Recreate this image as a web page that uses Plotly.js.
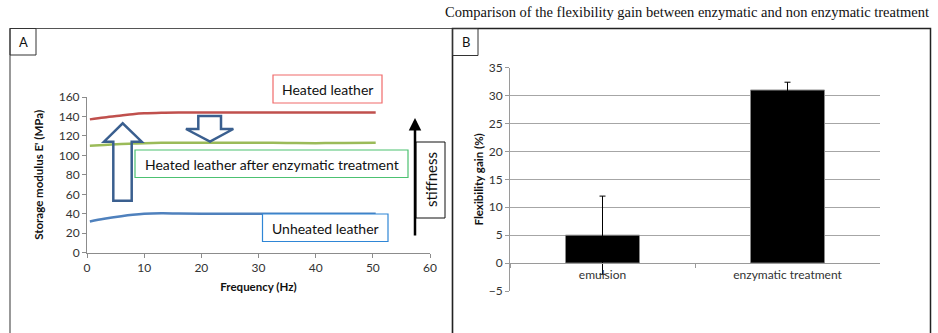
<!DOCTYPE html>
<html>
<head>
<meta charset="utf-8">
<script src="https://cdn.plot.ly/plotly-3.0.1.min.js"></script>
<style>html,body{margin:0;padding:0;background:#fff}#chart{width:938px;height:333px}</style>
</head>
<body>
<div id="chart"></div>
<script>
// ---- Data: Panel A (storage modulus vs frequency) ----
var freq = [0.5, 3, 6, 8, 10, 13, 16, 20, 25, 30, 35, 40, 45, 50.5];
var heated = [137, 139, 141, 142.3, 143.2, 143.8, 144, 144, 144, 144, 144, 144, 144, 144];
var heatedEnzyme = [110, 110.8, 111.6, 112.1, 112.6, 113, 113, 113, 113, 113, 112.8, 112.6, 112.8, 113];
var unheated = [32, 34.8, 37.5, 39, 40, 40.5, 40.3, 40, 40, 40, 40, 40, 40, 40];
var seriesNames = ['Heated leather', 'Heated leather after enzymatic treatment', 'Unheated leather'];

// ---- Data: Panel B (flexibility gain) ----
var treatments = ['emulsion', 'enzymatic treatment'];
var gain = [5, 31];
var gainErr = [7, 1.4];

var W = 938, H = 333;
function px(x){ return x / W; }
function py(y){ return 1 - y / H; }
function pathPx(pts){
  return 'M' + pts.map(function(p){ return px(p[0]).toFixed(5) + ',' + py(p[1]).toFixed(5); }).join(' L') + ' Z';
}

var FONT = 'Lato, "Open Sans", "DejaVu Sans", sans-serif';

var traces = [
  {x: freq, y: heated, name: seriesNames[0], type: 'scatter', mode: 'lines',
   line: {color: '#C0504D', width: 2.5, shape: 'spline'}, xaxis: 'x', yaxis: 'y'},
  {x: freq, y: heatedEnzyme, name: seriesNames[1], type: 'scatter', mode: 'lines',
   line: {color: '#9BBB59', width: 2.5, shape: 'spline'}, xaxis: 'x', yaxis: 'y'},
  {x: freq, y: unheated, name: seriesNames[2], type: 'scatter', mode: 'lines',
   line: {color: '#4F81BD', width: 2.5, shape: 'spline'}, xaxis: 'x', yaxis: 'y'},
  {x: treatments, y: gain, type: 'bar', name: 'Flexibility gain', width: 0.4,
   marker: {color: '#000000', line: {color: '#8a8a8a', width: 1}},
   error_y: {type: 'data', array: gainErr, arrayminus: gainErr, visible: true,
             color: '#000000', thickness: 1, width: 3},
   xaxis: 'x2', yaxis: 'y2'}
];

var axisFont = {family: FONT, size: 12, color: '#333333'};
var titleFont = {family: FONT, size: 11.5, color: '#111111', weight: 'bold'};

var layout = {
  width: W, height: H,
  margin: {l: 0, r: 0, t: 0, b: 0},
  paper_bgcolor: '#ffffff', plot_bgcolor: 'rgba(0,0,0,0)',
  showlegend: false,
  font: {family: FONT},
  xaxis: {
    domain: [px(87), px(430)], range: [0, 60], dtick: 10, tick0: 0,
    showline: true, linecolor: '#8c8c8c', linewidth: 1,
    ticks: 'outside', ticklen: 4, tickcolor: '#8c8c8c',
    showgrid: false, zeroline: false, tickfont: axisFont,
    title: {text: 'Frequency (Hz)', font: titleFont, standoff: 8},
    anchor: 'y', fixedrange: true
  },
  yaxis: {
    domain: [py(252.7), py(97)], range: [0, 160], dtick: 20, tick0: 0,
    showline: true, linecolor: '#8c8c8c', linewidth: 1,
    ticks: 'outside', ticklen: 4, tickcolor: '#8c8c8c',
    showgrid: false, zeroline: false, tickfont: axisFont,
    title: {text: "Storage modulus E' (MPa)", font: titleFont, standoff: 12},
    anchor: 'x', fixedrange: true
  },
  xaxis2: {
    domain: [px(510), px(880)], type: 'category',
    anchor: 'free', position: py(263.3),
    showline: true, linecolor: '#9a9a9a', linewidth: 1,
    ticks: 'outside', tickson: 'boundaries', ticklen: 4, tickcolor: '#9a9a9a',
    showgrid: false, zeroline: false, tickfont: axisFont, fixedrange: true
  },
  yaxis2: {
    domain: [py(291), py(67.7)], range: [-5, 35], dtick: 5, tick0: 0,
    showline: true, linecolor: '#9a9a9a', linewidth: 1,
    ticks: 'outside', ticklen: 4, tickcolor: '#9a9a9a',
    showgrid: true, gridcolor: '#a6a6a6', gridwidth: 1,
    zeroline: false, tickfont: axisFont,
    title: {text: 'Flexibility gain (%)', font: titleFont, standoff: 2},
    anchor: 'x2', fixedrange: true
  },
  shapes: [
    // panel frames
    {type: 'rect', xref: 'paper', yref: 'paper', x0: px(10), x1: px(452.5), y0: py(345), y1: py(28.5),
     line: {color: '#555555', width: 1.2}},
    {type: 'rect', xref: 'paper', yref: 'paper', x0: px(452.5), x1: px(930.5), y0: py(345), y1: py(28.5),
     line: {color: '#222222', width: 1.5}},
    // panel label boxes
    {type: 'rect', xref: 'paper', yref: 'paper', x0: px(10), x1: px(36), y0: py(55), y1: py(28.5),
     line: {color: '#333333', width: 1}},
    {type: 'rect', xref: 'paper', yref: 'paper', x0: px(452.5), x1: px(478), y0: py(55.5), y1: py(28.5),
     line: {color: '#333333', width: 1}},
    // label boxes in A
    {type: 'rect', xref: 'paper', yref: 'paper', x0: px(273), x1: px(382), y0: py(103), y1: py(75),
     line: {color: '#F06A6A', width: 1.2}, fillcolor: '#ffffff'},
    {type: 'rect', xref: 'paper', yref: 'paper', x0: px(135), x1: px(408), y0: py(177.5), y1: py(150),
     line: {color: '#4CC171', width: 1.2}, fillcolor: '#ffffff'},
    {type: 'rect', xref: 'paper', yref: 'paper', x0: px(262.5), x1: px(388), y0: py(241.5), y1: py(214),
     line: {color: '#2F86D6', width: 1.2}, fillcolor: '#ffffff'},
    {type: 'rect', xref: 'paper', yref: 'paper', x0: px(416), x1: px(445), y0: py(218), y1: py(142),
     line: {color: '#111111', width: 1}, fillcolor: '#ffffff'},
    // hollow up arrow
    {type: 'path', xref: 'paper', yref: 'paper',
     path: pathPx([[113.3, 200.7], [113.3, 141.7], [104, 141.7], [122.7, 123.3], [141.7, 141.7], [131.7, 141.7], [131.7, 200.7]]),
     line: {color: '#3A5F8F', width: 2.5}, fillcolor: 'rgba(0,0,0,0)'},
    // hollow down arrow
    {type: 'path', xref: 'paper', yref: 'paper',
     path: pathPx([[198.3, 116], [198.3, 129], [186, 129], [210, 141.7], [233.3, 129], [221, 129], [221, 116]]),
     line: {color: '#3A5F8F', width: 2.5}, fillcolor: 'rgba(0,0,0,0)'}
  ],
  annotations: [
    {text: 'Comparison of the flexibility gain between enzymatic and non enzymatic treatment',
     xref: 'paper', yref: 'paper', x: px(931), y: py(12), xanchor: 'right', yanchor: 'middle',
     showarrow: false, font: {family: '"Liberation Serif", "DejaVu Serif", serif', size: 14.5, color: '#111111'}},
    {text: 'A', xref: 'paper', yref: 'paper', x: px(23), y: py(42), xanchor: 'center', yanchor: 'middle',
     showarrow: false, font: {family: FONT, size: 13, color: '#111111'}},
    {text: 'B', xref: 'paper', yref: 'paper', x: px(465.5), y: py(42), xanchor: 'center', yanchor: 'middle',
     showarrow: false, font: {family: FONT, size: 13, color: '#111111'}},
    {text: seriesNames[0], xref: 'paper', yref: 'paper', x: px(327.5), y: py(89), xanchor: 'center', yanchor: 'middle',
     showarrow: false, font: {family: FONT, size: 14, color: '#111111'}},
    {text: seriesNames[1], xref: 'paper', yref: 'paper', x: px(271.5), y: py(164), xanchor: 'center', yanchor: 'middle',
     showarrow: false, font: {family: FONT, size: 14, color: '#111111'}},
    {text: seriesNames[2], xref: 'paper', yref: 'paper', x: px(325), y: py(228), xanchor: 'center', yanchor: 'middle',
     showarrow: false, font: {family: FONT, size: 14, color: '#111111'}},
    {text: 'stiffness', xref: 'paper', yref: 'paper', x: px(431), y: py(180), xanchor: 'center', yanchor: 'middle',
     textangle: -90, showarrow: false, font: {family: FONT, size: 15, color: '#111111'}},
    // stiffness arrow
    {text: '', xref: 'paper', yref: 'paper', x: px(415), y: py(118),
     axref: 'pixel', ayref: 'pixel', ax: 0, ay: 119,
     showarrow: true, arrowhead: 2, arrowsize: 1, arrowwidth: 2.5, arrowcolor: '#000000'}
  ]
};

Plotly.newPlot('chart', traces, layout, {staticPlot: true, displayModeBar: false});
</script>
</body>
</html>
